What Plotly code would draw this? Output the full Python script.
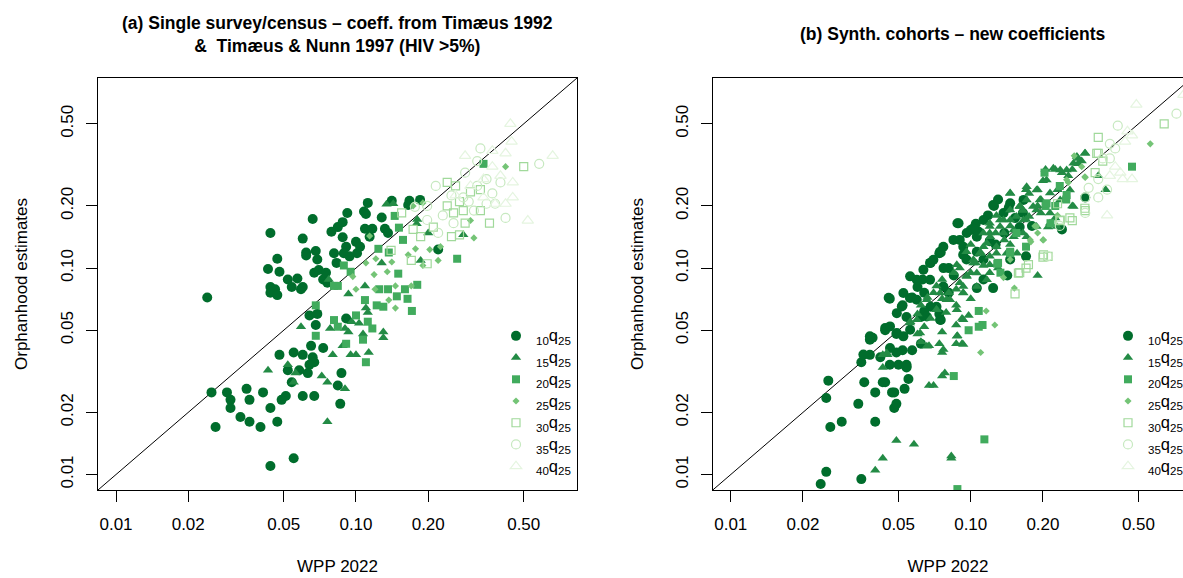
import plotly.graph_objects as go

# ---------------------------------------------------------------------------
# Data: WPP 2022 probabilities (x) vs orphanhood-based estimates (y)
# ---------------------------------------------------------------------------

# Panel (a): single survey/census, Timæus 1992 & Timæus & Nunn 1997 coefficients
a_10q25_wpp = [0.024, 0.044, 0.043, 0.047, 0.048, 0.044, 0.046, 0.044, 0.047, 0.052,
               0.054, 0.057, 0.059, 0.060, 0.062, 0.062, 0.060, 0.066, 0.068, 0.069,
               0.067, 0.070, 0.073, 0.075, 0.076, 0.079, 0.081, 0.083, 0.084, 0.088,
               0.088, 0.091, 0.092, 0.089, 0.094, 0.100, 0.101, 0.104, 0.109, 0.108,
               0.112, 0.110, 0.114, 0.117, 0.128, 0.132, 0.141, 0.136, 0.167, 0.185,
               0.165, 0.220,
               0.064, 0.069, 0.068, 0.091, 0.073, 0.065, 0.048, 0.055, 0.060, 0.066,
               0.067, 0.064, 0.058, 0.052, 0.063, 0.087, 0.054, 0.084, 0.060, 0.067,
               0.051, 0.049, 0.086, 0.044, 0.047, 0.040, 0.036, 0.033, 0.036, 0.035,
               0.041, 0.029, 0.030, 0.030, 0.025, 0.026, 0.044, 0.055]
a_10q25_orph = [0.072, 0.148, 0.099, 0.111, 0.096, 0.081, 0.079, 0.076, 0.074, 0.088,
                0.081, 0.089, 0.079, 0.081, 0.119, 0.115, 0.139, 0.173, 0.121, 0.110,
                0.095, 0.098, 0.088, 0.095, 0.085, 0.150, 0.118, 0.106, 0.158, 0.167,
                0.141, 0.127, 0.185, 0.118, 0.114, 0.134, 0.118, 0.127, 0.155, 0.188,
                0.207, 0.183, 0.142, 0.155, 0.176, 0.155, 0.212, 0.148, 0.212, 0.214,
                0.202, 0.123,
                0.059, 0.060, 0.053, 0.057, 0.041, 0.042, 0.038, 0.039, 0.038, 0.037,
                0.035, 0.034, 0.032, 0.032, 0.031, 0.031, 0.028, 0.027, 0.024, 0.024,
                0.024, 0.023, 0.022, 0.021, 0.018, 0.017, 0.018, 0.019, 0.023, 0.026,
                0.025, 0.025, 0.023, 0.021, 0.025, 0.017, 0.011, 0.012]

a_15q25_wpp = [0.134, 0.143, 0.180, 0.280, 0.128, 0.093, 0.109, 0.077, 0.082, 0.059,
               0.078, 0.090, 0.093, 0.107, 0.130, 0.130, 0.096, 0.103, 0.110, 0.112,
               0.080, 0.095, 0.100, 0.113, 0.088, 0.043, 0.052, 0.056, 0.055, 0.072,
               0.076, 0.090, 0.076, 0.179, 0.200, 0.186]
a_15q25_orph = [0.204, 0.205, 0.172, 0.145, 0.106, 0.075, 0.082, 0.088, 0.081, 0.052,
                0.051, 0.051, 0.049, 0.048, 0.049, 0.046, 0.055, 0.054, 0.064, 0.061,
                0.038, 0.038, 0.038, 0.039, 0.042, 0.032, 0.034, 0.031, 0.028, 0.030,
                0.028, 0.026, 0.018, 0.164, 0.148, 0.109]

a_20q25_wpp = [0.264, 0.145, 0.151, 0.124, 0.137, 0.157, 0.089, 0.095, 0.084, 0.125,
               0.136, 0.150, 0.148, 0.160, 0.164, 0.180, 0.171, 0.109, 0.122, 0.130,
               0.068, 0.068, 0.081, 0.084, 0.100, 0.112, 0.117, 0.107, 0.091, 0.110,
               0.081, 0.340]
a_20q25_orph = [0.111, 0.179, 0.157, 0.124, 0.119, 0.137, 0.103, 0.096, 0.082, 0.079,
                0.079, 0.094, 0.073, 0.079, 0.071, 0.083, 0.062, 0.070, 0.066, 0.065,
                0.066, 0.047, 0.056, 0.052, 0.059, 0.055, 0.051, 0.045, 0.043, 0.035,
                0.082, 0.320]

a_25q25_wpp = [0.420, 0.310, 0.220, 0.114, 0.110, 0.121, 0.141, 0.097, 0.119, 0.135,
               0.100, 0.120, 0.146, 0.146, 0.170, 0.190, 0.165, 0.177, 0.225, 0.203,
               0.173, 0.190, 0.137, 0.300]
a_25q25_orph = [0.310, 0.140, 0.109, 0.143, 0.106, 0.111, 0.107, 0.091, 0.093, 0.096,
                0.079, 0.079, 0.082, 0.064, 0.082, 0.103, 0.116, 0.124, 0.127, 0.123,
                0.200, 0.207, 0.070, 0.170]

a_30q25_wpp = [0.500, 0.240, 0.260, 0.330, 0.240, 0.270, 0.330, 0.360, 0.155, 0.173,
               0.186, 0.285, 0.270, 0.250, 0.140, 0.170, 0.198, 0.280, 0.210, 0.255,
               0.300]
a_30q25_orph = [0.310, 0.260, 0.250, 0.240, 0.200, 0.210, 0.190, 0.165, 0.185, 0.154,
                0.142, 0.165, 0.145, 0.142, 0.122, 0.109, 0.105, 0.190, 0.158, 0.185,
                0.234]

a_35q25_wpp = [0.330, 0.580, 0.215, 0.320, 0.285, 0.320, 0.350, 0.400, 0.370, 0.380,
               0.420, 0.310, 0.198, 0.230, 0.255, 0.280, 0.295, 0.350, 0.198, 0.220,
               0.250, 0.176]
a_35q25_orph = [0.380, 0.320, 0.250, 0.330, 0.290, 0.250, 0.270, 0.260, 0.230, 0.205,
                0.175, 0.190, 0.200, 0.180, 0.165, 0.220, 0.210, 0.205, 0.171, 0.148,
                0.225, 0.198]

a_40q25_wpp = [0.440, 0.285, 0.445, 0.660, 0.520, 0.420, 0.450, 0.450, 0.400, 0.370,
               0.340, 0.380, 0.420, 0.300, 0.370, 0.260, 0.340]
a_40q25_orph = [0.500, 0.350, 0.410, 0.350, 0.170, 0.360, 0.260, 0.220, 0.280, 0.310,
                0.270, 0.205, 0.205, 0.250, 0.370, 0.225, 0.220]

# Panel (b): synthetic cohorts, new coefficients
b_10q25_wpp = [0.0237, 0.025, 0.035, 0.026, 0.029, 0.040, 0.025, 0.0255, 0.034, 0.036,
               0.040, 0.038, 0.035, 0.038, 0.039, 0.044, 0.046, 0.048, 0.049, 0.047,
               0.048, 0.053, 0.055, 0.054, 0.054, 0.050, 0.043, 0.044, 0.046, 0.042,
               0.049, 0.049, 0.052, 0.057, 0.062, 0.052, 0.054, 0.057, 0.060, 0.063,
               0.064, 0.068, 0.074, 0.075, 0.077, 0.081, 0.088, 0.090, 0.093, 0.100,
               0.105, 0.108, 0.118, 0.125, 0.130, 0.075, 0.074, 0.072, 0.068, 0.064,
               0.062, 0.170, 0.142, 0.124, 0.240, 0.300, 0.106, 0.113, 0.081,
               0.144, 0.153, 0.160, 0.138, 0.120, 0.127, 0.113, 0.146, 0.165, 0.180,
               0.085, 0.096, 0.106,
               0.089, 0.1025, 0.124, 0.0745, 0.0677, 0.0596, 0.0455, 0.0516, 0.0558,
               0.038, 0.044, 0.0492, 0.0357, 0.0461, 0.054, 0.0745, 0.0656, 0.0931,
               0.106,
               0.0524, 0.0559, 0.0635, 0.0699, 0.0769, 0.0847, 0.0962, 0.0769, 0.0677,
               0.0596, 0.0492, 0.0461, 0.0559, 0.0524, 0.113, 0.137, 0.146, 0.166]
b_10q25_orph = [0.0090, 0.0103, 0.0095, 0.017, 0.018, 0.018, 0.0235, 0.0285, 0.022, 0.028,
                0.025, 0.038, 0.035, 0.045, 0.046, 0.050, 0.071, 0.021, 0.022, 0.025,
                0.025, 0.026, 0.029, 0.034, 0.033, 0.034, 0.028, 0.028, 0.034, 0.037,
                0.039, 0.048, 0.040, 0.040, 0.043, 0.066, 0.058, 0.072, 0.081, 0.088,
                0.076, 0.106, 0.118, 0.119, 0.100, 0.100, 0.165, 0.137, 0.116, 0.153,
                0.164, 0.150, 0.180, 0.200, 0.215, 0.056, 0.060, 0.065, 0.065, 0.062,
                0.058, 0.114, 0.092, 0.080, 0.154, 0.220, 0.080, 0.088, 0.076,
                0.196, 0.175, 0.158, 0.148, 0.135, 0.130, 0.110, 0.110, 0.185, 0.160,
                0.092, 0.110, 0.120,
                0.165, 0.156, 0.202, 0.120, 0.106, 0.0878, 0.0718, 0.0652, 0.0716,
                0.0467, 0.0513, 0.0485, 0.0381, 0.041, 0.0334, 0.0562, 0.0583, 0.127,
                0.142,
                0.0757, 0.0912, 0.0982, 0.1097, 0.127, 0.137, 0.148, 0.0815, 0.0879,
                0.0703, 0.0605, 0.0522, 0.0503, 0.0467, 0.171, 0.185, 0.206, 0.214]

b_15q25_wpp = [0.040, 0.043, 0.049, 0.058, 0.083, 0.083, 0.067, 0.070, 0.076, 0.078,
               0.076, 0.074, 0.067, 0.087, 0.092, 0.088, 0.087, 0.092, 0.098, 0.076,
               0.043, 0.045, 0.043, 0.062, 0.060, 0.064, 0.068, 0.072, 0.076, 0.081,
               0.087, 0.090, 0.096, 0.100, 0.105, 0.113, 0.120, 0.110, 0.093, 0.100,
               0.087, 0.079, 0.070, 0.066, 0.062, 0.060, 0.056, 0.138, 0.127, 0.146,
               0.155, 0.165, 0.146, 0.170, 0.175, 0.190, 0.190, 0.196, 0.210, 0.225,
               0.205, 0.225, 0.240, 0.255, 0.265, 0.280, 0.290, 0.300, 0.280, 0.265,
               0.245, 0.230, 0.340, 0.365, 0.190, 0.196, 0.160, 0.175, 0.128, 0.120,
               0.113, 0.100, 0.096, 0.090, 0.085, 0.076, 0.072, 0.120, 0.130, 0.146,
               0.165, 0.170, 0.200,
               0.0875, 0.0962, 0.1025, 0.1094, 0.1167, 0.0794, 0.0721, 0.0656, 0.0596,
               0.0931, 0.106, 0.0875, 0.0931, 0.0875, 0.0769, 0.0931, 0.0656, 0.0447,
               0.120, 0.1325, 0.146, 0.137, 0.128, 0.1167, 0.0558, 0.0615,
               0.146, 0.171, 0.188, 0.207, 0.221, 0.236, 0.251, 0.268, 0.299, 0.277,
               0.160, 0.188, 0.214, 0.236, 0.259, 0.268, 0.214, 0.228, 0.137, 0.151,
               0.171, 0.188, 0.120, 0.128, 0.156, 0.109, 0.120,
               0.1026, 0.113, 0.1205, 0.1325, 0.146, 0.161, 0.171, 0.182, 0.166,
               0.151, 0.128, 0.106, 0.0931, 0.082, 0.0745, 0.141, 0.194, 0.214]
b_15q25_orph = [0.0105, 0.012, 0.0146, 0.014, 0.0123, 0.012, 0.027, 0.027, 0.030, 0.031,
                0.039, 0.043, 0.042, 0.043, 0.043, 0.047, 0.053, 0.057, 0.059, 0.049,
                0.033, 0.038, 0.038, 0.044, 0.048, 0.052, 0.057, 0.063, 0.071, 0.076,
                0.079, 0.085, 0.092, 0.095, 0.106, 0.103, 0.114, 0.119, 0.076, 0.071,
                0.066, 0.061, 0.076, 0.072, 0.066, 0.060, 0.055, 0.137, 0.148, 0.160,
                0.178, 0.190, 0.230, 0.240, 0.230, 0.240, 0.200, 0.185, 0.158, 0.175,
                0.300, 0.300, 0.290, 0.280, 0.300, 0.320, 0.330, 0.360, 0.340, 0.200,
                0.215, 0.240, 0.280, 0.240, 0.092, 0.215, 0.200, 0.178, 0.180, 0.165,
                0.148, 0.130, 0.120, 0.100, 0.095, 0.088, 0.082, 0.095, 0.100, 0.130,
                0.148, 0.172, 0.265,
                0.1037, 0.091, 0.106, 0.118, 0.132, 0.0703, 0.0628, 0.0703, 0.0562,
                0.0757, 0.0815, 0.0628, 0.0562, 0.0467, 0.0403, 0.0426, 0.0418, 0.0388,
                0.159, 0.171, 0.191, 0.148, 0.1037, 0.0878, 0.0542, 0.0485,
                0.231, 0.248, 0.239, 0.267, 0.305, 0.299, 0.299, 0.322, 0.360, 0.347,
                0.199, 0.191, 0.185, 0.214, 0.239, 0.199, 0.165, 0.159, 0.171, 0.153,
                0.142, 0.159, 0.148, 0.127, 0.118, 0.118, 0.1037,
                0.1097, 0.127, 0.142, 0.159, 0.171, 0.199, 0.214, 0.199, 0.171,
                0.142, 0.118, 0.0946, 0.0815, 0.0703, 0.0757, 0.118, 0.214, 0.231]

b_20q25_wpp = [0.470, 0.203, 0.235, 0.205, 0.215, 0.146, 0.129, 0.133, 0.170, 0.108,
               0.112, 0.108, 0.098, 0.085, 0.114, 0.088, 0.250, 0.225, 0.155,
               0.207, 0.146, 0.130, 0.251]
b_20q25_orph = [0.310, 0.290, 0.250, 0.200, 0.165, 0.120, 0.105, 0.095, 0.127, 0.062,
                0.053, 0.052, 0.050, 0.030, 0.0148, 0.0085, 0.215, 0.200, 0.148,
                0.206, 0.118, 0.106, 0.226]

b_25q25_wpp = [0.560, 0.270, 0.290, 0.255, 0.200, 0.190, 0.178, 0.137, 0.152, 0.116,
               0.126, 0.110, 0.146, 0.185, 0.230, 0.300,
               0.251, 0.188, 0.177, 0.201, 0.299]
b_25q25_orph = [0.400, 0.350, 0.310, 0.260, 0.137, 0.148, 0.134, 0.090, 0.080, 0.062,
                0.053, 0.039, 0.110, 0.160, 0.180, 0.275,
                0.268, 0.159, 0.137, 0.137, 0.277]

b_30q25_wpp = [0.640, 0.340, 0.340, 0.355, 0.330, 0.230, 0.235, 0.265, 0.300, 0.200,
               0.170, 0.160, 0.153, 0.210,
               0.335, 0.299, 0.259, 0.236, 0.201, 0.174, 0.158]
b_30q25_orph = [0.500, 0.430, 0.360, 0.330, 0.290, 0.205, 0.170, 0.170, 0.190, 0.113,
                0.100, 0.095, 0.075, 0.114,
                0.360, 0.195, 0.175, 0.171, 0.116, 0.104, 0.0946]

b_35q25_wpp = [0.720, 0.410, 0.380, 0.400, 0.380, 0.355, 0.340, 0.310, 0.370, 0.340,
               0.300, 0.235, 0.210, 0.300]
b_35q25_orph = [0.560, 0.490, 0.400, 0.380, 0.340, 0.340, 0.270, 0.245, 0.240, 0.220,
                0.185, 0.160, 0.114, 0.220]

b_40q25_wpp = [0.490, 0.770, 0.450, 0.470, 0.400, 0.420, 0.380, 0.430, 0.470, 0.370,
               0.440]
b_40q25_orph = [0.620, 0.690, 0.460, 0.440, 0.310, 0.290, 0.280, 0.270, 0.270, 0.180,
                0.410]

# Series labels (R-style subscripts), colours and symbols
series_labels = ["<sub>10</sub>q<sub>25</sub>", "<sub>15</sub>q<sub>25</sub>",
                 "<sub>20</sub>q<sub>25</sub>", "<sub>25</sub>q<sub>25</sub>",
                 "<sub>30</sub>q<sub>25</sub>", "<sub>35</sub>q<sub>25</sub>",
                 "<sub>40</sub>q<sub>25</sub>"]
series_colors = ["#006D2C", "#238B45", "#41AB5D", "#74C476", "#A1D99B", "#C7E9C0", "#E5F5E0"]
series_symbols = ["circle", "triangle-up", "square", "diamond",
                  "square-open", "circle-open", "triangle-up-open"]
series_sizes = [10, 9, 8, 5.5, 8, 9, 10]

tick_vals = [0.01, 0.02, 0.05, 0.10, 0.20, 0.50]
tick_text = ["0.01", "0.02", "0.05", "0.10", "0.20", "0.50"]

identity_line = [0.005, 1.0]

panel_a = [(a_10q25_wpp, a_10q25_orph), (a_15q25_wpp, a_15q25_orph),
           (a_20q25_wpp, a_20q25_orph), (a_25q25_wpp, a_25q25_orph),
           (a_30q25_wpp, a_30q25_orph), (a_35q25_wpp, a_35q25_orph),
           (a_40q25_wpp, a_40q25_orph)]
panel_b = [(b_10q25_wpp, b_10q25_orph), (b_15q25_wpp, b_15q25_orph),
           (b_20q25_wpp, b_20q25_orph), (b_25q25_wpp, b_25q25_orph),
           (b_30q25_wpp, b_30q25_orph), (b_35q25_wpp, b_35q25_orph),
           (b_40q25_wpp, b_40q25_orph)]

# ---------------------------------------------------------------------------
W, H = 1183, 578
FONT = "Liberation Sans, Arial, Helvetica, sans-serif"

fig = go.Figure()

for (xa, ya), (legend_name, panel) in [(("x", "y"), ("legend", panel_a)),
                                         (("x2", "y2"), ("legend2", panel_b))]:
    fig.add_trace(go.Scatter(
        x=identity_line, y=identity_line, xaxis=xa, yaxis=ya, mode="lines",
        line=dict(color="black", width=1), showlegend=False, hoverinfo="skip"))
    for i, (xs, ys) in enumerate(panel):
        open_marker = series_symbols[i].endswith("open")
        fig.add_trace(go.Scatter(
            x=xs, y=ys, xaxis=xa, yaxis=ya, mode="markers",
            name='<span style="font-size:16.5px">' + series_labels[i] + "</span>",
            legend=legend_name,
            marker=dict(symbol=series_symbols[i], size=series_sizes[i],
                        color=series_colors[i],
                        line=dict(color=series_colors[i], width=1.2 if open_marker else 0)),
        ))

axis_common = dict(
    type="log", showgrid=False, zeroline=False,
    showline=True, linecolor="black", linewidth=1,
    ticks="outside", ticklen=11, tickwidth=1, tickcolor="black",
    tickfont=dict(family=FONT, size=17, color="black"),
    tickvals=tick_vals, ticktext=tick_text,
)

y_dom = [88 / H, 500 / H]
fig.update_layout(
    width=W, height=H,
    margin=dict(l=0, r=0, t=0, b=0, autoexpand=False),
    paper_bgcolor="white", plot_bgcolor="white",
    font=dict(family=FONT, color="black"),
    xaxis=dict(axis_common, domain=[98 / W, 577 / W], range=[-2.075, -0.079],
               mirror=True, anchor="y", ticklabelstandoff=8,
               title=dict(text="WPP 2022", font=dict(size=17), standoff=26)),
    yaxis=dict(axis_common, domain=y_dom, range=[-2.075, -0.079], mirror=True,
               anchor="x", tickangle=-90, ticklabelstandoff=6,
               title=dict(text="Orphanhood estimates", font=dict(size=17), standoff=26)),
    xaxis2=dict(axis_common, domain=[713 / W, 1.0], range=[-2.074, -0.1154],
                mirror=True, anchor="y2", ticklabelstandoff=8,
                title=dict(text="WPP 2022", font=dict(size=17), standoff=26)),
    yaxis2=dict(axis_common, domain=y_dom, range=[-2.075, -0.079], mirror=False,
                anchor="x2", tickangle=-90, ticklabelstandoff=6,
                title=dict(text="Orphanhood estimates", font=dict(size=17), standoff=25)),
    legend=dict(x=496 / W, xanchor="left", y=1 - 320 / H, yanchor="top",
                bgcolor="rgba(0,0,0,0)", font=dict(family=FONT, size=14.4),
                itemsizing="trace"),
    legend2=dict(x=1108 / W, xanchor="left", y=1 - 320 / H, yanchor="top",
                 bgcolor="rgba(0,0,0,0)", font=dict(family=FONT, size=14.4),
                 itemsizing="trace"),
    annotations=[
        dict(text="<b>(a) Single survey/census – coeff. from Timæus 1992<br>"
                  "&amp;&nbsp; Timæus &amp; Nunn 1997 (HIV &gt;5%)</b>",
             x=337.5 / W, y=1 - 34 / H, xref="paper", yref="paper",
             xanchor="center", yanchor="middle", showarrow=False,
             font=dict(family=FONT, size=17.5, color="black")),
        dict(text="<b>(b) Synth. cohorts – new coefficients</b>",
             x=952.5 / W, y=1 - 34 / H, xref="paper", yref="paper",
             xanchor="center", yanchor="middle", showarrow=False,
             font=dict(family=FONT, size=17.5, color="black")),
    ],
)

fig.write_html("out.html")
